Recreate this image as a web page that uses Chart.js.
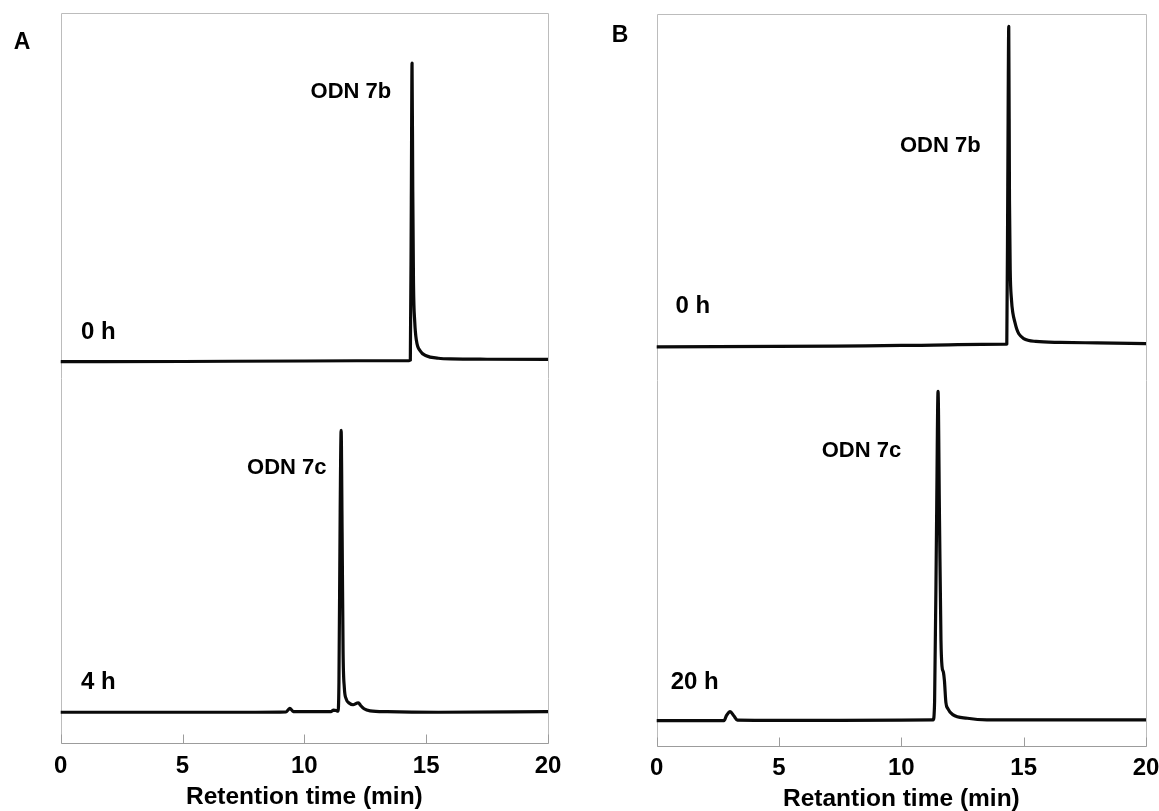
<!DOCTYPE html>
<html>
<head>
<meta charset="utf-8">
<script src="https://cdn.jsdelivr.net/npm/chart.js@4/dist/chart.umd.min.js"></script>
<style>
  html, body { margin: 0; padding: 0; background: #fff; }
  #wrap { position: relative; width: 1159px; height: 811px; overflow: hidden; }
  canvas { position: absolute; top: 0; }
  #chartA { left: 0; }
  #chartB { left: 580px; }
</style>
</head>
<body>
<div id="wrap">
  <canvas id="chartA" width="580" height="811"></canvas>
  <canvas id="chartB" width="610" height="811"></canvas>
</div>
<script>
const FONT = '"Liberation Sans", Arial, Helvetica, sans-serif';
const xTicks = [0, 5, 10, 15, 20];

// ---- Panel A, 0 h (ODN 7b) ----
const timeA0 = [0, 5, 10, 14.3, 14.35, 14.39, 14.42, 14.45, 14.48, 14.53, 14.6, 14.75, 15.0, 15.5, 16.0, 17.5, 20];
const sigA0  = [0, 0.03, 0.1, 0.16, 0.21, 21.9, 40.9, 23.3, 10.7, 5.5, 2.9, 1.5, 0.82, 0.48, 0.38, 0.34, 0.33];
const offsetA0 = 52.25;

// ---- Panel A, 4 h (ODN 7c) ----
const timeA4 = [0, 5, 8, 9.25, 9.4, 9.55, 10, 11.1, 11.2, 11.3, 11.38, 11.42, 11.47, 11.51, 11.55, 11.59, 11.64, 11.72, 11.85, 12.0, 12.15, 12.22, 12.3, 12.45, 12.7, 13.4, 15.5, 20];
const sigA4  = [0, 0, 0, 0.05, 0.55, 0.1, 0.08, 0.1, 0.3, 0.25, 0.14, 4.1, 27.4, 38.6, 24.6, 8.2, 3.4, 1.8, 1.23, 1.03, 1.23, 1.3, 0.96, 0.48, 0.2, 0.08, 0, 0.08];
const offsetA4 = 4.25;

// ---- Panel B, 0 h (ODN 7b) ----
const timeB0 = [0, 7.3, 10, 14.25, 14.31, 14.35, 14.39, 14.42, 14.45, 14.5, 14.56, 14.64, 14.72, 14.8, 15.0, 15.5, 16.5, 18, 20];
const sigB0  = [0, 0.1, 0.2, 0.37, 0.4, 22.0, 43.8, 20.0, 10.5, 6.5, 4.6, 3.4, 2.4, 1.8, 1.15, 0.75, 0.62, 0.55, 0.46];
const offsetB0 = 54.5;

// ---- Panel B, 20 h (ODN 7c) ----
const timeB20 = [0, 2.75, 2.85, 3.0, 3.15, 3.3, 5, 10, 11.3, 11.36, 11.44, 11.5, 11.56, 11.62, 11.66, 11.72, 11.76, 11.82, 11.9, 12.1, 12.7, 13.5, 20];
const sigB20  = [0, 0, 0.68, 1.23, 0.68, 0.07, 0.04, 0.07, 0.1, 2.73, 27.3, 45.0, 27.3, 10.9, 7.5, 6.6, 5.5, 2.5, 1.64, 0.82, 0.33, 0.1, 0.1];
const offsetB20 = 3.42;

// Text annotations anchored in data coordinates (min, stacked intensity)
const notesA = [
  { text: 'ODN 7b', x: 11.91, y: 89.2, align: 'center', size: 22 },
  { text: '0 h',    x: 0.83,  y: 56.2, align: 'left',   size: 24 },
  { text: 'ODN 7c', x: 9.28,  y: 37.7, align: 'center', size: 22 },
  { text: '4 h',    x: 0.83,  y: 8.3,  align: 'left',   size: 24 }
];
const notesB = [
  { text: 'ODN 7b', x: 11.59, y: 82.0, align: 'center', size: 22 },
  { text: '0 h',    x: 0.77,  y: 60.1, align: 'left',   size: 24 },
  { text: 'ODN 7c', x: 8.37,  y: 40.3, align: 'center', size: 22 },
  { text: '20 h',   x: 0.57,  y: 8.6,  align: 'left',   size: 24 }
];

function trace(times, sig, offset) {
  return {
    data: times.map((t, i) => ({ x: t, y: sig[i] + offset })),
    borderColor: '#0a0a0a',
    borderWidth: 3.2,
    pointRadius: 0,
    fill: false,
    cubicInterpolationMode: 'monotone',
    borderJoinStyle: 'round',
    borderCapStyle: 'round'
  };
}

// Light frame round the plot area with inward tick marks on the time axis
const framePlugin = {
  id: 'frame',
  beforeDatasetsDraw(chart) {
    const { ctx, chartArea: a, scales: { x } } = chart;
    ctx.save();
    ctx.lineWidth = 1;
    ctx.strokeStyle = '#bcbcbc';
    const l = Math.round(a.left) + 0.5, r = Math.round(a.right) + 0.5;
    const t = Math.round(a.top) + 0.5, b = Math.round(a.bottom) + 0.5;
    ctx.beginPath();
    ctx.moveTo(l, b); ctx.lineTo(l, t); ctx.lineTo(r, t); ctx.lineTo(r, b);
    ctx.stroke();
    ctx.strokeStyle = '#9c9c9c';
    ctx.beginPath();
    ctx.moveTo(l, b); ctx.lineTo(r, b);
    xTicks.forEach(v => {
      const px = Math.round(x.getPixelForValue(v)) + 0.5;
      ctx.moveTo(px, b); ctx.lineTo(px, b - 9);
    });
    ctx.stroke();
    ctx.restore();
  }
};

// Peak names, time stamps and the panel letter
const notesPlugin = {
  id: 'notes',
  afterDatasetsDraw(chart, args, opts) {
    const { ctx, scales: { x, y } } = chart;
    ctx.save();
    ctx.fillStyle = '#000';
    ctx.textBaseline = 'middle';
    (opts.items || []).forEach(n => {
      ctx.font = 'bold ' + n.size + 'px ' + FONT;
      ctx.textAlign = n.align;
      ctx.fillText(n.text, x.getPixelForValue(n.x), y.getPixelForValue(n.y));
    });
    if (opts.letter) {
      ctx.textAlign = 'center';
      ctx.font = 'bold 23px ' + FONT;
      ctx.fillText(opts.letter.text, opts.letter.px, opts.letter.py);
    }
    ctx.restore();
  }
};

function makeChart(id, datasets, cfg) {
  return new Chart(document.getElementById(id), {
    type: 'line',
    data: { datasets },
    plugins: [framePlugin, notesPlugin],
    options: {
      responsive: false,
      animation: false,
      devicePixelRatio: 1,
      layout: { padding: cfg.padding },
      plugins: {
        legend: { display: false },
        tooltip: { enabled: false },
        notes: { items: cfg.notes, letter: cfg.letter }
      },
      scales: {
        x: {
          type: 'linear',
          min: 0, max: 20,
          afterBuildTicks(scale) { scale.ticks = xTicks.map(v => ({ value: v })); },
          afterFit(scale) { scale.height = cfg.axisHeight; },
          grid: { display: false, drawTicks: false },
          border: { display: false },
          ticks: {
            padding: cfg.tickPad,
            color: '#000',
            font: { family: FONT, size: 24, weight: 'bold' }
          },
          title: {
            display: true,
            text: cfg.title,
            color: '#000',
            padding: { top: 0, bottom: cfg.titlePad },
            font: { family: FONT, size: 24.5, weight: 'bold', lineHeight: 1 }
          }
        },
        y: { display: false, min: 0, max: 100 }
      }
    }
  });
}

makeChart('chartA', [
  trace(timeA0, sigA0, offsetA0),
  trace(timeA4, sigA4, offsetA4)
], {
  padding: { left: 60.7, right: 32, top: 13, bottom: 0 },
  axisHeight: 67.7,
  tickPad: 9,
  titlePad: 1.5,
  title: 'Retention time (min)',
  notes: notesA,
  letter: { text: 'A', px: 22, py: 43 }
});

makeChart('chartB', [
  trace(timeB0, sigB0, offsetB0),
  trace(timeB20, sigB20, offsetB20)
], {
  padding: { left: 76.7, right: 44, top: 14, bottom: 0 },
  axisHeight: 65.3,
  tickPad: 8.6,
  titlePad: 0,
  title: 'Retantion time (min)',
  notes: notesB,
  letter: { text: 'B', px: 40, py: 36 }
});
</script>
</body>
</html>
